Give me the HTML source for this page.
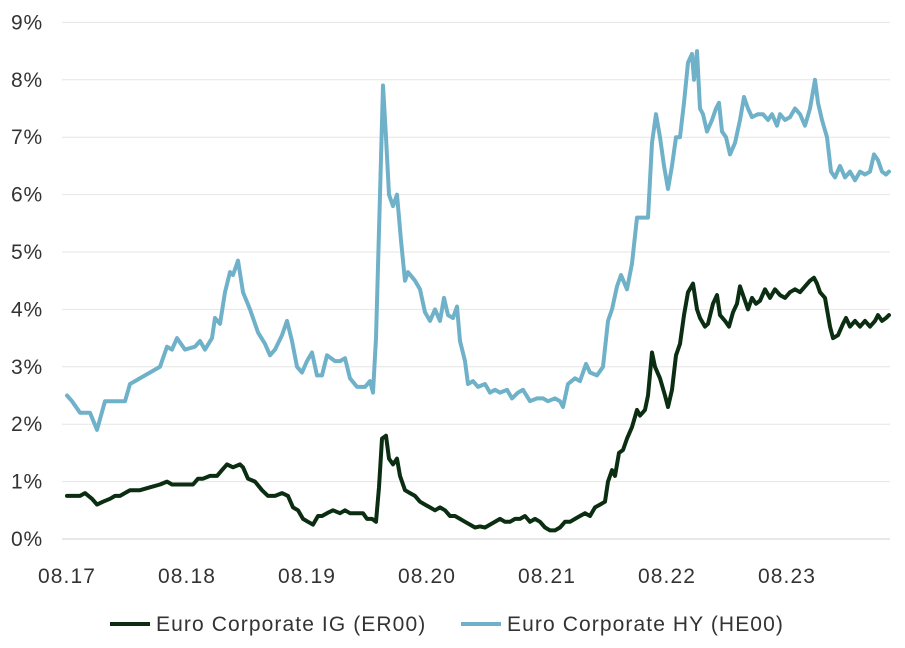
<!DOCTYPE html>
<html><head><meta charset="utf-8">
<style>
html,body{margin:0;padding:0;background:#fff;}
svg{display:block;font-family:"Liberation Sans",sans-serif;}
</style></head>
<body>
<svg id="chart" width="905" height="648" viewBox="0 0 905 648">
  <g id="grid"></g>
  <g id="yticks"></g>
  <g id="xticks"></g>
  <g id="series"></g>
  <g>
    <g>
      <line x1="110" y1="624" x2="150" y2="624" stroke="#0b2d12" stroke-width="4"/>
      <text x="156" y="631" font-size="21" letter-spacing="1.1" fill="#333">Euro Corporate IG (ER00)</text>
    </g>
    <g>
      <line x1="461" y1="624" x2="501" y2="624" stroke="#6fb1c8" stroke-width="4"/>
      <text x="507" y="631" font-size="21" letter-spacing="1.1" fill="#333">Euro Corporate HY (HE00)</text>
    </g>
  </g>
</svg>
<script>
// months since Aug 2017, yield in %
const hyMonths=[0,0.5,1.3,2.3,3,3.8,4.8,5.8,6.3,7.3,8.3,9.3,10,10.5,11,11.8,12.8,13.3,13.8,14.5,14.8,15.3,15.8,16.3,16.6,17.1,17.6,18.3,19.1,19.8,20.3,20.8,21.5,22,22.5,23,23.5,24,24.5,25,25.5,26,26.8,27.3,27.8,28.3,29,29.8,30.3,30.6,30.9,31.3,31.6,31.9,32.2,32.6,33,33.4,33.8,34.1,34.8,35.3,35.8,36.3,36.8,37.3,37.7,38.1,38.6,39,39.3,39.8,40.1,40.6,41.1,41.8,42.3,42.8,43.3,44,44.5,45.1,45.6,46.3,47,47.6,48.1,48.8,49.3,49.6,50.1,50.8,51.3,51.9,52.3,53,53.6,54.1,54.5,55,55.4,56,56.5,57,57.6,58.1,58.5,58.9,59.3,59.7,60.1,60.5,60.9,61.3,61.7,62.1,62.5,62.7,63,63.3,63.6,64,64.5,64.9,65.2,65.5,65.9,66.3,66.8,67.3,67.7,68.1,68.5,69.1,69.6,70.1,70.5,71,71.3,71.8,72.3,72.8,73.3,73.8,74.3,74.8,75.1,75.5,76,76.4,76.8,77.3,77.8,78.3,78.8,79.3,79.8,80.3,80.7,81.1,81.5,81.9,82.2];
const hyValues=[2.5,2.4,2.2,2.2,1.9,2.4,2.4,2.4,2.7,2.8,2.9,3.0,3.35,3.3,3.5,3.3,3.35,3.45,3.3,3.5,3.85,3.75,4.3,4.65,4.6,4.85,4.3,4.0,3.6,3.4,3.2,3.3,3.55,3.8,3.45,3.0,2.9,3.1,3.25,2.85,2.85,3.2,3.1,3.1,3.15,2.8,2.65,2.65,2.75,2.55,3.5,6.0,7.9,7.0,6.0,5.8,6.0,5.2,4.5,4.65,4.5,4.35,3.95,3.8,4.0,3.8,4.2,3.9,3.85,4.05,3.45,3.1,2.7,2.75,2.65,2.7,2.55,2.6,2.55,2.6,2.45,2.55,2.6,2.4,2.45,2.45,2.4,2.45,2.4,2.3,2.7,2.8,2.75,3.05,2.9,2.85,3.0,3.8,4.0,4.4,4.6,4.35,4.8,5.6,5.6,5.6,6.9,7.4,7.0,6.5,6.1,6.5,7.0,7.0,7.6,8.3,8.45,8.0,8.5,7.5,7.4,7.1,7.3,7.5,7.6,7.1,7.0,6.7,6.9,7.3,7.7,7.5,7.35,7.4,7.4,7.3,7.4,7.2,7.4,7.3,7.35,7.5,7.4,7.2,7.5,8.0,7.6,7.3,7.0,6.4,6.3,6.5,6.3,6.4,6.25,6.4,6.35,6.4,6.7,6.6,6.4,6.35,6.4];
const igMonths=[0,0.8,1.3,1.8,2.5,3,3.6,4.3,4.8,5.3,6.3,7.3,8.3,9.3,10,10.5,11.3,12,12.6,13.1,13.6,14.3,15,15.5,16,16.6,17.3,17.6,18.1,18.8,19.5,20.1,20.8,21.5,22.1,22.6,23.1,23.6,24.1,24.6,25.1,25.5,26,26.6,27.3,27.8,28.3,29,29.6,30,30.5,30.9,31.2,31.5,31.9,32.2,32.6,33,33.3,33.8,34.3,34.8,35.3,35.8,36.3,36.8,37.3,37.8,38.3,38.8,39.3,39.8,40.3,40.8,41.3,41.8,42.3,42.8,43.3,43.8,44.3,44.8,45.3,45.8,46.3,46.8,47.3,47.8,48.3,48.8,49.3,49.8,50.3,50.8,51.3,51.8,52.3,52.8,53.3,53.8,54.1,54.5,54.8,55.2,55.6,56,56.5,57,57.3,57.8,58.1,58.5,58.8,59.3,59.8,60.1,60.5,60.9,61.3,61.7,62.1,62.6,63,63.3,63.8,64.1,64.6,65,65.3,65.8,66.2,66.6,67,67.3,67.7,68.1,68.5,68.9,69.3,69.8,70.3,70.8,71.3,71.8,72.3,72.8,73.3,73.8,74.3,74.7,75,75.3,75.8,76.3,76.6,77.1,77.6,77.9,78.3,78.8,79.3,79.8,80.3,80.8,81.1,81.5,81.9,82.2];
const igValues=[0.75,0.75,0.75,0.8,0.7,0.6,0.65,0.7,0.75,0.75,0.85,0.85,0.9,0.95,1.0,0.95,0.95,0.95,0.95,1.05,1.05,1.1,1.1,1.2,1.3,1.25,1.3,1.25,1.05,1.0,0.85,0.75,0.75,0.8,0.75,0.55,0.5,0.35,0.3,0.25,0.4,0.4,0.45,0.5,0.45,0.5,0.45,0.45,0.45,0.35,0.35,0.3,0.9,1.75,1.8,1.4,1.3,1.4,1.1,0.85,0.8,0.75,0.65,0.6,0.55,0.5,0.55,0.5,0.4,0.4,0.35,0.3,0.25,0.2,0.22,0.2,0.25,0.3,0.35,0.3,0.3,0.35,0.35,0.4,0.3,0.35,0.3,0.2,0.15,0.15,0.2,0.3,0.3,0.35,0.4,0.45,0.4,0.55,0.6,0.65,1.0,1.2,1.1,1.5,1.55,1.75,1.95,2.25,2.15,2.25,2.5,3.25,3.0,2.8,2.5,2.3,2.6,3.2,3.4,3.9,4.3,4.45,4.0,3.85,3.7,3.75,4.1,4.25,3.9,3.8,3.7,3.95,4.1,4.4,4.2,4.0,4.2,4.1,4.15,4.35,4.2,4.35,4.25,4.2,4.3,4.35,4.3,4.4,4.5,4.55,4.45,4.3,4.2,3.7,3.5,3.55,3.75,3.85,3.7,3.8,3.7,3.8,3.7,3.8,3.9,3.8,3.85,3.9];
const yTickValues=[0,1,2,3,4,5,6,7,8,9];
const xTickLabels=["08.17","08.18","08.19","08.20","08.21","08.22","08.23"];
const xTickMonths=[0,12,24,36,48,60,72];

const NS="http://www.w3.org/2000/svg";
const X0=67, PX_PER_MONTH=10, Y0=539, PX_PER_PCT=57.4;
const xScale=m=>X0+m*PX_PER_MONTH;
const yScale=v=>Y0-v*PX_PER_PCT;
function mk(tag,attrs,parent){const e=document.createElementNS(NS,tag);for(const k in attrs)e.setAttribute(k,attrs[k]);parent.appendChild(e);return e;}

const grid=document.getElementById('grid'), yt=document.getElementById('yticks'), xt=document.getElementById('xticks'), ser=document.getElementById('series');
yTickValues.forEach(v=>{
  const l=mk('line',{x1:62,x2:890,y1:yScale(v),y2:yScale(v),stroke:v===0?'#d0d0d0':'#e6e6e6','stroke-width':1},grid);
  
  
  const t=mk('text',{x:43,y:yScale(v)+7,'text-anchor':'end','font-size':21,'letter-spacing':0.8,fill:'#333'},yt);
  t.textContent=v+'%';
  
  
});
xTickLabels.forEach((lab,i)=>{
  const t=mk('text',{x:xScale(xTickMonths[i]),y:583,'text-anchor':'middle','font-size':21,'letter-spacing':1.1,fill:'#333'},xt);
  t.textContent=lab;
  
  
});
function line(ms,vs,color,name){
  const d=ms.map((m,i)=>(i?'L':'M')+xScale(m).toFixed(1)+','+yScale(vs[i]).toFixed(1)).join('');
  const p=mk('path',{d:d,fill:'none',stroke:color,'stroke-width':4,'stroke-linejoin':'round','stroke-linecap':'round'},ser);
  
  
}
line(hyMonths,hyValues,'#6fb1c8','hy-line');
line(igMonths,igValues,'#0b2d12','ig-line');
</script>
</body></html>
